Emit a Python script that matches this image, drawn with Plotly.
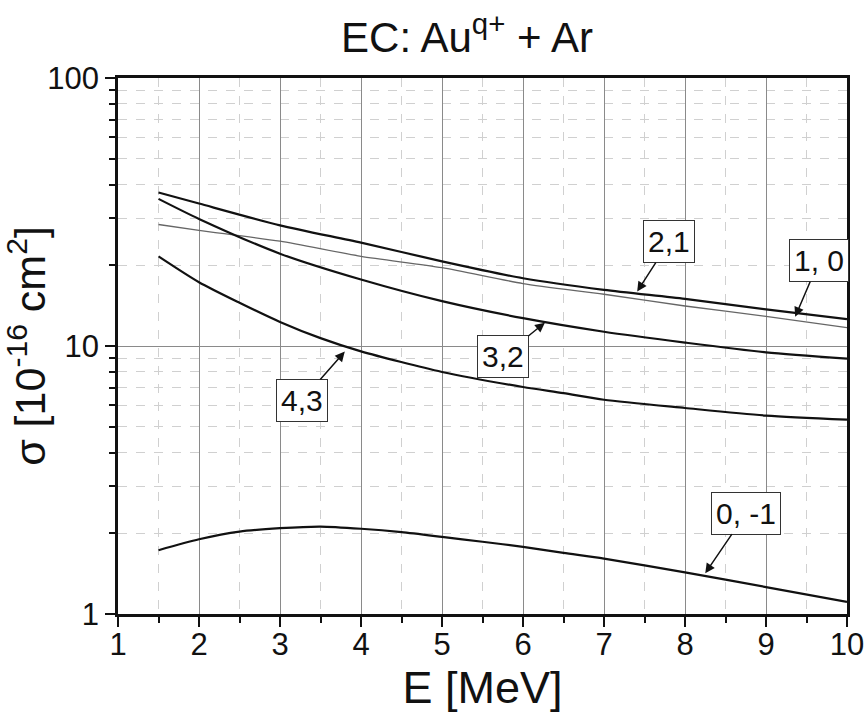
import math
import plotly.graph_objects as go

# ---- data ----
E = [1.5, 2, 3, 4, 5, 6, 7, 8, 9, 10]
sig_21 = [37.4, 34.0, 28.2, 24.3, 20.7, 17.9, 16.2, 15.0, 13.7, 12.6]
sig_10 = [28.4, 27.0, 24.6, 21.6, 19.6, 17.1, 15.6, 14.1, 12.9, 11.7]
sig_32 = [35.4, 29.8, 22.1, 17.7, 14.7, 12.7, 11.3, 10.3, 9.47, 8.97]
E_43 = [1.5, 2, 2.5, 3, 3.5, 4, 5, 6, 6.5, 7, 8, 9, 10]
sig_43 = [21.6, 17.3, 14.5, 12.3, 10.7, 9.55, 8.0, 7.03, 6.67, 6.30, 5.87, 5.50, 5.31]
E_01 = [1.5, 2, 2.5, 3, 3.5, 4, 4.5, 5, 5.5, 6, 6.5, 7, 8, 9, 10]
sig_01 = [1.73, 1.90, 2.03, 2.09, 2.12, 2.08, 2.02, 1.94, 1.86, 1.78, 1.69, 1.61, 1.43, 1.26, 1.11]

x_ticks = [1, 2, 3, 4, 5, 6, 7, 8, 9, 10]
y_ticks = [1, 10, 100]

# labels: (text, x of arrow tip, y of arrow tip, ax, ay)
labels = [
    ("2,1", 7.41, 15.96, 32, -50),
    ("1, 0", 9.36, 12.85, 24, -56),
    ("3,2", 6.27, 12.22, -42, 34),
    ("4,3", 3.80, 9.53, -43, 49),
    ("0, -1", 8.25, 1.42, 41, -60),
]

FONT = "Arial, 'Liberation Sans', sans-serif"

fig = go.Figure()
thick = dict(color="#111111", width=2.2, smoothing=0.7)
fig.add_trace(go.Scatter(x=E, y=sig_21, mode="lines", line=thick, line_shape="spline"))
fig.add_trace(go.Scatter(x=E, y=sig_10, mode="lines",
                         line=dict(color="#666666", width=1.3, smoothing=0.7), line_shape="spline"))
fig.add_trace(go.Scatter(x=E, y=sig_32, mode="lines", line=thick, line_shape="spline"))
fig.add_trace(go.Scatter(x=E_43, y=sig_43, mode="lines", line=thick, line_shape="spline"))
fig.add_trace(go.Scatter(x=E_01, y=sig_01, mode="lines", line=thick, line_shape="spline"))

for txt, x, y, ax, ay in labels:
    fig.add_annotation(
        x=x, y=math.log10(y), xref="x", yref="y", text=txt,
        showarrow=True, ax=ax, ay=ay, arrowhead=2, arrowsize=1.3, arrowwidth=1.5,
        arrowcolor="#111111", font=dict(family=FONT, size=30, color="#111111"),
        bordercolor="#333333", borderwidth=1, borderpad=4, bgcolor="white",
    )

fig.update_layout(
    width=865, height=713,
    margin=dict(l=118, r=18, t=78, b=99, autoexpand=False),
    paper_bgcolor="white", plot_bgcolor="white",
    showlegend=False,
    font=dict(family=FONT, color="#111111"),
    title=dict(text="EC: Au<sup>q+</sup> + Ar", x=467 / 865, xanchor="center",
               y=1 - 37 / 713, yanchor="middle", font=dict(size=42, family=FONT)),
)
fig.update_xaxes(
    range=[1, 10], tickvals=x_ticks, ticktext=[str(v) for v in x_ticks],
    showline=True, linecolor="#111111", linewidth=2.5, mirror=True,
    ticks="outside", ticklen=10, tickwidth=2, tickcolor="#111111",
    tickfont=dict(size=31), ticklabelstandoff=-9, automargin=False,
    ticklabeloverflow="allow",
    showgrid=True, gridcolor="#8a8a8a", gridwidth=1,
    minor=dict(dtick=0.5, ticks="outside", ticklen=6, tickwidth=1.5, tickcolor="#111111",
               showgrid=True, gridcolor="#d0d0d0", gridwidth=1, griddash="dash"),
    title=dict(text="E [MeV]", font=dict(size=45), standoff=4),
    zeroline=False,
)
fig.update_yaxes(
    type="log", range=[0, 2], tickvals=y_ticks, ticktext=[str(v) for v in y_ticks],
    showline=True, linecolor="#111111", linewidth=2.5, mirror=True,
    ticks="outside", ticklen=10, tickwidth=2, tickcolor="#111111",
    tickfont=dict(size=31), automargin=False, ticklabeloverflow="allow",
    showgrid=True, gridcolor="#8a8a8a", gridwidth=1,
    minor=dict(dtick="D1", ticks="outside", ticklen=6, tickwidth=1.5, tickcolor="#111111",
               showgrid=True, gridcolor="#d0d0d0", gridwidth=1, griddash="dash"),
    title=dict(text="σ [10<sup>-16</sup> cm<sup>2</sup>]", font=dict(size=43), standoff=4),
    zeroline=False,
)

fig.write_html("out.html")
